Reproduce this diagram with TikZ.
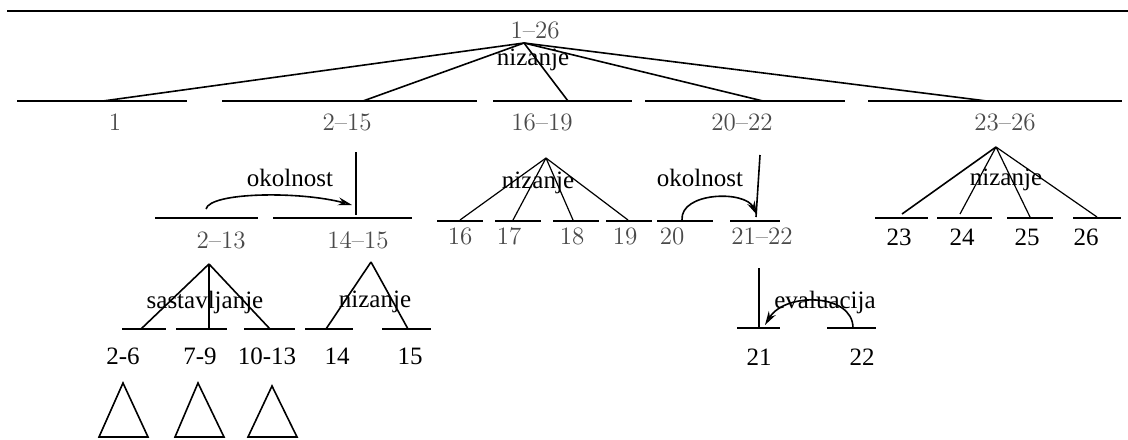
\documentclass[tikz,border=0pt]{standalone}
\usepackage{fontspec}
\usetikzlibrary{arrows.meta}
\newfontfamily\tnr{Liberation Serif}
\definecolor{Grey}{HTML}{4A4A4A}

\begin{document}
\begin{tikzpicture}[x=0.5pt,y=-0.5pt,>={Stealth[open,length=7pt,width=4pt]},
    seg/.style={line width=1.1pt},
    fineseg/.style={line width=0.6pt},
    link/.style={line width=0.8pt},
    span/.style={text=Grey,font=\fontsize{12.5}{14}\selectfont,inner sep=0pt},
    rel/.style={font=\tnr\fontsize{12.5}{14}\selectfont,inner sep=0pt}]
    \useasboundingbox (0,0) rectangle (1128,439);
    \draw[seg] (7,11) -- (1128,11);
    % root
    \coordinate (r0) at (524,43);
    \node[span] (n126) at (535,30) {1--26};
    \node[rel] (rel0) at (533,60) {nizanje};
    \draw[seg] (17,101) -- (187,101);
    \draw[seg] (222,101) -- (477,101);
    \draw[seg] (493,101) -- (632,101);
    \draw[seg] (645,101) -- (845,101);
    \draw[seg] (868,101) -- (1122,101);
    \coordinate (a1) at (103,101);
    \coordinate (a215) at (363,101);
    \coordinate (a1619) at (568,101);
    \coordinate (a2022) at (763,101);
    \coordinate (a2326) at (987,101);
    \draw[link] (r0) -- (a1);
    \draw[link] (r0) -- (a215);
    \draw[link] (r0) -- (a1619);
    \draw[link] (r0) -- (a2022);
    \draw[link] (r0) -- (a2326);
    \node[span] (n1) at (115,122) {1};
    \node[span] (n215) at (347,122) {2--15};
    \node[span] (n1619) at (542,122) {16--19};
    \node[span] (n2022) at (742,122) {20--22};
    \node[span] (n2326) at (1005,122) {23--26};
    % 2-15
    \coordinate (t215) at (356,152);
    \coordinate (b215) at (356,215);
    \draw[link] (t215) -- (b215);
    \draw[seg] (155,218) -- (258,218);
    \draw[seg] (273,218) -- (412,218);
    \coordinate (o213) at (206,209);
    \coordinate (h1415) at (352,205);
    \draw[link,->] (o213) .. controls (210,192) and (300,191) .. (h1415);
    \node[rel] (rel215) at (290,178) {okolnost};
    \node[span] (n213) at (221,240) {2--13};
    \node[span] (n1415) at (358,240) {14--15};
    % 2-13
    \coordinate (t213) at (209,264);
    \draw[seg] (122,329) -- (166,329);
    \draw[seg] (176,329) -- (227,329);
    \draw[seg] (244,329) -- (295,329);
    \coordinate (a26) at (141,329);
    \coordinate (a79) at (209,329);
    \coordinate (a1013) at (270,329);
    \draw[link] (t213) -- (a26);
    \draw[link] (t213) -- (a79);
    \draw[link] (t213) -- (a1013);
    \node[rel] (rel213) at (205,302) {sastavljanje};
    \node[rel] (n26) at (123,356) {2-6};
    \node[rel] (n79) at (200,356) {7-9};
    \node[rel] (n1013) at (267,356) {10-13};
    \draw[link] (123,383) -- (99,437) -- (148,437) -- cycle;
    \draw[link] (198,383) -- (175,437) -- (224,437) -- cycle;
    \draw[link] (272,386) -- (248,437) -- (297,437) -- cycle;
    % 14-15
    \coordinate (t1415) at (371,262);
    \draw[seg] (305,329) -- (353,329);
    \draw[seg] (382,329) -- (431,329);
    \coordinate (a14) at (326,329);
    \coordinate (a15) at (408,329);
    \draw[link] (t1415) -- (a14);
    \draw[link] (t1415) -- (a15);
    \node[rel] (rel1415) at (375,302) {nizanje};
    \node[rel] (n14) at (337,356) {14};
    \node[rel] (n15) at (410,356) {15};
    % 16-19
    \coordinate (t1619) at (546,158);
    \draw[fineseg] (437,221) -- (483,221);
    \draw[fineseg] (495,221) -- (541,221);
    \draw[fineseg] (553,221) -- (599,221);
    \draw[fineseg] (606,221) -- (652,221);
    \coordinate (a16) at (460,220);
    \coordinate (a17) at (513,220);
    \coordinate (a18) at (573,220);
    \coordinate (a19) at (628,220);
    \draw[fineseg] (t1619) -- (a16);
    \draw[fineseg] (t1619) -- (a17);
    \draw[fineseg] (t1619) -- (a18);
    \draw[fineseg] (t1619) -- (a19);
    \node[rel] (rel1619) at (538,183) {nizanje};
    \node[span] (n16) at (460,236) {16};
    \node[span] (n17) at (509,236) {17};
    \node[span] (n18) at (572,236) {18};
    \node[span] (n19) at (625,236) {19};
    % 20-22
    \coordinate (t2022) at (760,155);
    \coordinate (b2022) at (756,217);
    \draw[link] (t2022) -- (b2022);
    \draw[seg] (657,221) -- (713,221);
    \draw[seg] (730,221) -- (780,221);
    \coordinate (o20) at (682,220);
    \coordinate (h2122) at (757,215);
    \draw[link,->] (o20) .. controls (680,192) and (745,190) .. (h2122);
    \node[rel] (rel2022) at (700,178) {okolnost};
    \node[span] (n20) at (672,236) {20};
    \node[span] (n2122) at (762,236) {21--22};
    % 21-22
    \coordinate (t2122) at (759,268);
    \coordinate (b2122) at (759,327);
    \draw[link] (t2122) -- (b2122);
    \draw[seg] (737,328) -- (780,328);
    \draw[seg] (827,328) -- (876,328);
    \coordinate (o22) at (853,328);
    \coordinate (h21) at (765,325);
    \draw[link,->] (o22) .. controls (853,293) and (785,292) .. (h21);
    \node[rel] (rel2122) at (825,302) {evaluacija};
    \node[rel] (n21) at (759,357) {21};
    \node[rel] (n22) at (862,357) {22};
    % 23-26
    \coordinate (t2326) at (996,147);
    \draw[fineseg] (875,218) -- (928,218);
    \draw[fineseg] (937,218) -- (992,218);
    \draw[fineseg] (1007,218) -- (1053,218);
    \draw[fineseg] (1073,218) -- (1121,218);
    \coordinate (a23) at (902,214);
    \coordinate (a24) at (960,214);
    \coordinate (a25) at (1030,217);
    \coordinate (a26x) at (1097,217);
    \draw[link] (t2326) -- (a23);
    \draw[fineseg] (t2326) -- (a24);
    \draw[fineseg] (t2326) -- (a25);
    \draw[fineseg] (t2326) -- (a26x);
    \node[rel] (rel2326) at (1006,180) {nizanje};
    \node[rel] (n23) at (899,237) {23};
    \node[rel] (n24) at (962,237) {24};
    \node[rel] (n25) at (1027,237) {25};
    \node[rel] (n26x) at (1086,237) {26};
\end{tikzpicture}
\end{document}
